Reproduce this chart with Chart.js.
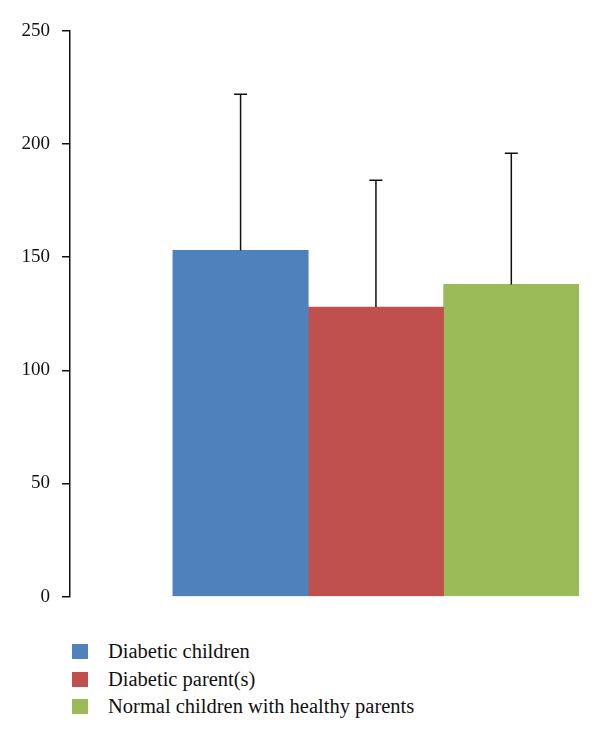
<!DOCTYPE html>
<html>
<head>
<meta charset="utf-8">
<script src="https://cdn.jsdelivr.net/npm/chart.js@4/dist/chart.umd.min.js"></script>
<style>
  body { margin: 0; background: #fff; }
  .wrap { position: relative; width: 600px; height: 740px; }
  .chart-box { position: absolute; left: 0; top: 0; width: 600px; height: 620px; }
  .legend { position: absolute; left: 72px; top: 638px; font-family: "Liberation Serif", serif; font-size: 20.5px; color: #111; }
  .legend div { display: flex; align-items: center; height: 27.5px; }
  .legend span.box { display: inline-block; width: 16px; height: 15px; margin-right: 20px; }
</style>
</head>
<body>
<div class="wrap">
  <div class="chart-box"><canvas id="chart"></canvas></div>
  <div class="legend" id="legend"></div>
</div>
<script>
const groups = ['Diabetic children', 'Diabetic parent(s)', 'Normal children with healthy parents'];
const means = [153, 128, 138];
const sds = [69, 56, 58];
const colors = ['#4F81BD', '#C0504D', '#9BBB59'];
const xPositions = [1, 2, 3];
const yTicks = [0, 50, 100, 150, 200, 250];

// error bars (mean + sd) drawn on top of each bar
const errorBars = {
  id: 'errorBars',
  afterDatasetsDraw(chart) {
    const ctx = chart.ctx;
    const y = chart.scales.y;
    ctx.save();
    ctx.strokeStyle = '#111';
    ctx.lineWidth = 1.5;
    chart.data.datasets.forEach((ds, i) => {
      const bar = chart.getDatasetMeta(i).data[0];
      if (!bar) return;
      const top = y.getPixelForValue(means[i] + sds[i]);
      ctx.beginPath();
      ctx.moveTo(bar.x, bar.y);
      ctx.lineTo(bar.x, top);
      ctx.moveTo(bar.x - 6.5, top);
      ctx.lineTo(bar.x + 6.5, top);
      ctx.stroke();
    });
    ctx.restore();
  }
};

const ctx = document.getElementById('chart').getContext('2d');
new Chart(ctx, {
  type: 'bar',
  data: {
    datasets: groups.map((g, i) => ({
      label: g,
      data: [{ x: xPositions[i], y: means[i] }],
      backgroundColor: colors[i],
      borderWidth: 0,
      barPercentage: 1,
      categoryPercentage: 1
    }))
  },
  options: {
    responsive: true,
    maintainAspectRatio: false,
    animation: false,
    layout: { padding: { top: 31, right: 21, bottom: 0, left: 0 } },
    plugins: {
      legend: { display: false },
      tooltip: { enabled: false }
    },
    scales: {
      x: {
        type: 'linear',
        stacked: true,
        offset: false,
        min: -0.26,
        max: 3.5,
        display: false,
        afterBuildTicks: (scale) => { scale.ticks = xPositions.map(v => ({ value: v })); }
      },
      y: {
        min: 0,
        max: 250,
        afterBuildTicks: (scale) => { scale.ticks = yTicks.map(v => ({ value: v })); },
        afterFit: (scale) => { scale.width = 70; },
        border: { display: true, color: '#111', width: 1.5 },
        grid: { drawOnChartArea: false, drawTicks: true, tickLength: 8, color: '#111', lineWidth: 1.5 },
        ticks: {
          padding: 12,
          color: '#111',
          font: { family: 'Liberation Serif', size: 19 }
        }
      }
    }
  },
  plugins: [errorBars]
});

const legend = document.getElementById('legend');
groups.forEach((g, i) => {
  const row = document.createElement('div');
  row.innerHTML = '<span class="box" style="background:' + colors[i] + '"></span>' + g;
  legend.appendChild(row);
});
</script>
</body>
</html>
